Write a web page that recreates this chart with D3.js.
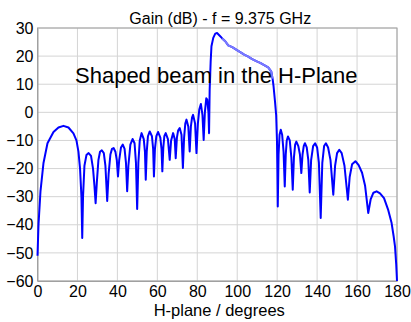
<!DOCTYPE html>
<meta charset="utf-8">
<script src="https://d3js.org/d3.v7.min.js"></script>
<style>
  body { margin: 0; background: #fff; }
  text { font-family: "Liberation Sans", Arial, sans-serif; }
</style>
<div id="chart"></div>
<script>

// pattern angle (deg) and gain (dB)
var angle = [
  0, 0.5, 1.5, 3, 5, 8, 10.5, 13, 15.5, 18, 19.5, 20.5, 21.3, 22, 22.4, 22.8,
  23.5, 24.5, 25.6, 26.8, 27.8, 28.5, 29.1, 29.7, 30.5, 31.3, 32.2, 33.2, 34.0, 34.9,
  35.6, 36.5, 37.3, 38.1, 39.0, 39.7, 40.3, 40.9, 41.8, 42.7, 43.6, 44.3, 44.9,
  45.5, 46.5, 47.6, 48.6, 49.3, 49.9, 50.5, 51.2, 52.1, 53.2, 53.8, 54.2, 54.7,
  55.3, 56.2, 57.3, 57.9, 58.3, 58.8, 59.5, 60.4, 61.5, 62.1, 62.5, 63.0, 63.5,
  64.2, 65.3, 66.2, 66.9, 67.9, 68.7, 69.2, 69.8, 70.4, 71.2, 72.1, 72.8, 73.4,
  74.0, 74.6, 75.5, 76.2, 76.8, 77.4, 77.9, 78.9, 79.6, 80.3, 81.0, 81.8, 82.6,
  83.2, 83.8, 84.5, 85.0, 85.6, 85.9, 86.2, 86.7, 87.1, 88.0, 89.0, 89.9, 91.0,
  92.5, 94.0, 95.5, 97.5, 99.5, 101.5, 103.5, 105.5, 107.5, 109.5, 111.5, 113.5,
  115.5, 117.0, 117.7, 118.2, 118.9, 119.5, 119.9, 120.1, 120.3, 120.7, 121.2,
  121.8, 122.5, 123.2, 123.8, 124.3, 124.8, 125.4, 126.3, 127.1, 127.8, 128.4,
  129.0, 129.6, 130.6, 131.4, 132.1, 132.7, 133.3, 133.9, 134.8, 135.6, 136.3,
  137.0, 138.0, 139.0, 140.0, 140.9, 141.8, 142.6, 143.5, 144.4, 145.5, 146.7,
  148.1, 149.0, 150.0, 151.1, 152.3, 153.7, 155.4, 156.3, 157.5, 159.2, 160.8,
  162.5, 164.0, 165.6, 166.8, 168.2, 169.8, 171.5, 173.5, 175.5, 177.3, 178.3,
  179.0, 179.6, 180
];
var gain = [
  -51, -40, -28, -18, -11, -7, -5.4, -4.8, -5.4, -7.5, -10, -14, -20, -30, -44.7, -30,
  -19, -15.2, -14.5, -15.5, -20, -26, -32.3, -25, -17, -14, -13.5, -14.5, -19, -31.5,
  -22, -15, -13, -12.7, -14, -17, -22.8, -17, -12.5, -11.5, -13, -18, -28.1,
  -19, -11.5, -9.5, -11, -18, -34.4, -18, -10, -7.4, -9.5, -14, -24, -14,
  -8.5, -6.8, -8.5, -13, -22.8, -13, -8.5, -7, -9, -13, -21, -12.5, -8.5,
  -7.4, -9.5, -16.9, -10, -7.4, -9.5, -16.3, -9, -6.5, -5.6, -8, -19.8, -9,
  -4, -2.6, -5, -13.9, -5, -1.8, -0.9, -4, -14.5, -4, 1, 3, -1,
  -9.8, 0, 5, 4.5, 0, -7.4, 8, 18, 23.5, 26.5, 28, 28.2, 27.4,
  26.3, 25.3, 23.8, 23.2, 22.3, 21.4, 20.5, 19.8, 18.9, 18.2, 17.6, 16.8,
  16.0, 14.6, 12, 9.2, 4, -1, -10, -20, -33.5, -15, -8,
  -6.2, -8, -14, -26.4, -15, -10, -8.6, -10, -16, -27.5, -16,
  -11.5, -10.4, -12, -15, -21.6, -15, -12, -11, -12.5, -17, -28.5,
  -17, -12, -11, -12.5, -18, -37.6, -18, -12, -11, -12.5, -17,
  -29.3, -19, -14.5, -13.3, -14.5, -19, -31.1, -23, -18.5, -17.4, -18.8,
  -21.5, -26, -35.8, -31, -28.6, -28.1, -28.8, -30.5, -34.5, -39.4, -44,
  -47.7, -54, -60
];

var xTicks = [0, 20, 40, 60, 80, 100, 120, 140, 160, 180];
var yTicks = [30, 20, 10, 0, -10, -20, -30, -40, -50, -60];

var titleText = "Gain (dB) - f = 9.375 GHz";
var xLabel = "H-plane / degrees";
var noteText = "Shaped beam in the H-Plane";

var W = 411, H = 322;
var margin = {top: 28, right: 14, bottom: 41, left: 37.5},
    width = W - margin.left - margin.right,
    height = H - margin.top - margin.bottom;

var svg = d3.select("#chart")
  .append("svg")
    .attr("width", W)
    .attr("height", H);

var g = svg.append("g")
    .attr("transform", "translate(" + margin.left + "," + margin.top + ")");

var x = d3.scaleLinear().domain([0, 180]).range([0, width]);
var y = d3.scaleLinear().domain([-60, 30]).range([height, 0]);

// grid
g.append("g")
  .selectAll("line")
  .data(xTicks)
  .join("line")
    .attr("x1", d => x(d)).attr("x2", d => x(d))
    .attr("y1", 0).attr("y2", height)
    .attr("stroke", "#d4d4d4").attr("stroke-width", 1);
g.append("g")
  .selectAll("line")
  .data(yTicks)
  .join("line")
    .attr("x1", 0).attr("x2", width)
    .attr("y1", d => y(d)).attr("y2", d => y(d))
    .attr("stroke", "#d4d4d4").attr("stroke-width", 1);

// box
g.append("rect")
  .attr("width", width).attr("height", height)
  .attr("fill", "none").attr("stroke", "#a0a0a0").attr("stroke-width", 1);

// axes
var xAxis = g.append("g")
  .attr("transform", "translate(0," + height + ")")
  .call(d3.axisBottom(x).tickValues(xTicks).tickSize(0).tickPadding(5));
var yAxis = g.append("g")
  .call(d3.axisLeft(y).tickValues(yTicks).tickSize(0).tickPadding(4));
[xAxis, yAxis].forEach(function(a) {
  a.select(".domain").attr("stroke", "#a0a0a0");
  a.selectAll("text")
    .attr("fill", "#000")
    .style("font-size", "16px")
    .style("font-family", "'Liberation Sans', Arial, sans-serif");
});

// pattern
var pts = angle.map(function(a, i) { return [a, gain[i]]; });
var line = d3.line()
    .x(function(d) { return x(d[0]); })
    .y(function(d) { return y(d[1]); });
g.append("path")
  .datum(pts)
  .attr("fill", "none")
  .attr("stroke", "#0000ff")
  .attr("stroke-width", 2)
  .attr("stroke-linejoin", "round")
  .attr("d", line);

// main lobe top looks paler in the original
g.append("path")
  .datum(pts.filter(function(d) { return d[0] >= 92.5 && d[0] <= 117.7; }))
  .attr("fill", "none")
  .attr("stroke", "#7a7aff")
  .attr("stroke-width", 2)
  .attr("stroke-linejoin", "round")
  .attr("d", line);

// texts
svg.append("text")
  .attr("x", margin.left + width / 2 + 3)
  .attr("y", 24)
  .attr("text-anchor", "middle")
  .style("font-size", "16px")
  .text(titleText);

svg.append("text")
  .attr("x", margin.left + width / 2 + 2)
  .attr("y", 316)
  .attr("text-anchor", "middle")
  .style("font-size", "16.5px")
  .text(xLabel);

svg.append("text")
  .attr("x", 75)
  .attr("y", 83)
  .style("font-size", "22px")
  .text(noteText);

</script>
